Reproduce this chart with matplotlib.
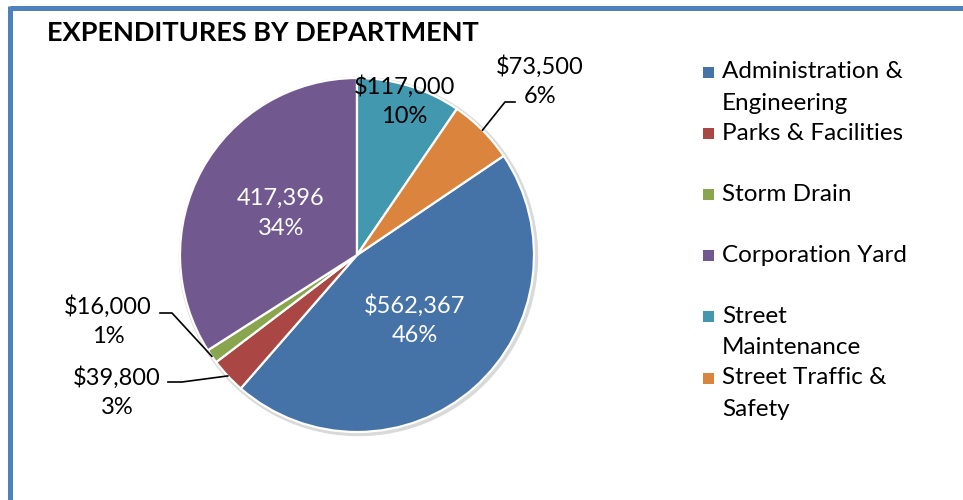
import matplotlib
matplotlib.use("Agg")
import matplotlib.pyplot as plt
from matplotlib.patches import Rectangle
import numpy as np

categories = ["Administration & Engineering", "Parks & Facilities", "Storm Drain",
              "Corporation Yard", "Street Maintenance", "Street Traffic & Safety"]
legend_lines = [["Administration &", "Engineering"], ["Parks & Facilities"], ["Storm Drain"],
                ["Corporation Yard"], ["Street", "Maintenance"], ["Street Traffic &", "Safety"]]
values = [562367, 39800, 16000, 417396, 117000, 73500]
value_labels = ["$562,367", "$39,800", "$16,000", "417,396", "$117,000", "$73,500"]
pct_labels = ["46%", "3%", "1%", "34%", "10%", "6%"]
colors = ["#4572A7", "#AA4643", "#89A54E", "#71588F", "#4198AF", "#DB843D"]

W, H = 963, 500
FONT = "Lato"
fig = plt.figure(figsize=(W / 100, H / 100), dpi=100)
ax = fig.add_axes([0, 0, 1, 1])

def Y(py):
    return H - py

cx, cy, R = 357, 255, 177
total = sum(values)
frac_before_sm = sum(values[:4]) / total
startangle = 90 - (1 - frac_before_sm) * 360

# subtle shadow
shadow = plt.Circle((cx + 1.5, Y(cy) - 1.5), R + 2, color="#d9d9d9", zorder=0.5)
ax.add_patch(shadow)

wedges, _ = ax.pie(values, colors=colors, startangle=startangle, counterclock=False,
                   center=(cx, Y(cy)), radius=R, frame=True,
                   wedgeprops=dict(edgecolor="white", linewidth=1.6))
ax.set_xlim(0, W)
ax.set_ylim(0, H)
ax.axis("off")

# border (partially visible frame)
ax.plot([10, W + 5], [Y(7.5), Y(7.5)], color="#4F81BD", lw=3.6, solid_capstyle="butt")
ax.plot([10, 10], [Y(5.7), -5], color="#4F81BD", lw=3.6, solid_capstyle="butt")

fs = 17.0
ls = 1.52
# inside labels
inside = {0: (0.49, "white"), 3: (0.49, "white"), 4: (0.91, "black")}
for i, (rf, col) in inside.items():
    w = wedges[i]
    mid = np.deg2rad((w.theta1 + w.theta2) / 2)
    x = cx + rf * R * np.cos(mid)
    y = Y(cy) + rf * R * np.sin(mid)
    ax.text(x, y, value_labels[i] + "\n" + pct_labels[i], color=col, fontsize=fs,
            family=FONT, ha="center", va="center", linespacing=ls, zorder=5)

# outside labels with leader lines: (label center px, knee px, end px)
outside = {
    5: ((540, 81), (505, 102), (515, 102)),
    2: ((108, 321), (172, 313), (160, 313)),
    1: ((117, 392), (182, 382), (168, 382)),
}
for i, (lab, knee, end) in outside.items():
    w = wedges[i]
    mid = np.deg2rad((w.theta1 + w.theta2) / 2)
    px = cx + R * np.cos(mid)
    py = Y(cy) + R * np.sin(mid)
    ax.plot([px, knee[0], end[0]], [py, Y(knee[1]), Y(end[1])], color="black", lw=1.2, zorder=6)
    ax.text(lab[0], Y(lab[1]), value_labels[i] + "\n" + pct_labels[i], color="black",
            fontsize=fs, family=FONT, ha="center", va="center", linespacing=ls, zorder=6)

# title
ax.text(47, Y(33), "EXPENDITURES BY DEPARTMENT", fontsize=19.5, fontweight="bold",
        family=FONT, ha="left", va="center")

# legend
ly0, lstep, lline = 72, 61.2, 31
for i, lines in enumerate(legend_lines):
    yy = ly0 + i * lstep
    ax.add_patch(Rectangle((702.5, Y(yy) - 5.5), 11, 11, facecolor=colors[i], edgecolor="none"))
    for j, t in enumerate(lines):
        ax.text(722, Y(yy + j * lline), t, fontsize=17.5, family=FONT, ha="left", va="center")

fig.savefig("out.png", dpi=100)
